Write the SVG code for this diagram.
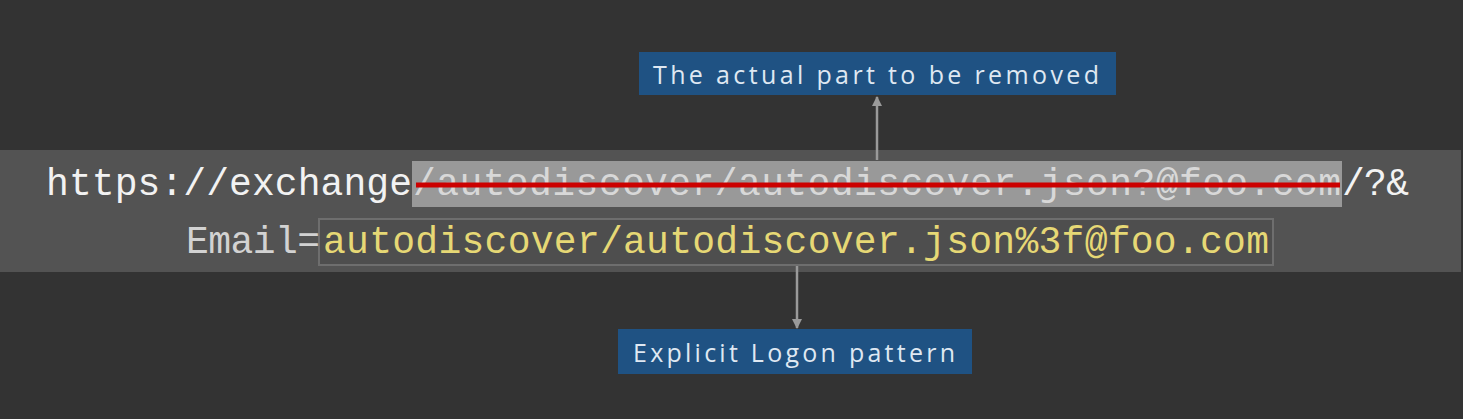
<svg xmlns="http://www.w3.org/2000/svg" width="1463" height="419" viewBox="0 0 1463 419">
<defs>
<style>
.mono{font-family:"Liberation Mono","DejaVu Sans Mono",monospace;font-size:38px}
.lbl{font-family:"Open Sans","Noto Sans",sans-serif;font-size:25px;fill:#dfe8f2;letter-spacing:1px}
.conn{stroke:#9a9a9a;stroke-width:2.5;fill:none}
</style>
<marker id="ah" viewBox="0 0 10 10" refX="9" refY="5" markerWidth="4" markerHeight="4" orient="auto">
<path d="M0,0 L10,5 L0,10 z" fill="#9a9a9a"/>
</marker>
</defs>
<rect width="1463" height="419" fill="#333333"/>
<g id="url-band">
<rect x="0" y="150" width="1461" height="122" fill="#535353"/>
<rect x="412" y="161" width="930" height="46" fill="#999999"/>
<rect x="319" y="219" width="954" height="46" fill="#4e4e4e" stroke="#6e6e6e" stroke-width="2"/>
<text class="mono" x="46" y="195" fill="#f2f2f2" textLength="366" lengthAdjust="spacing">https://exchange</text>
<text class="mono" x="413" y="195" fill="#d8d8d8" textLength="928" lengthAdjust="spacing">/autodiscover/autodiscover.json?@foo.com</text>
<text class="mono" x="1342" y="195" fill="#f2f2f2" textLength="67" lengthAdjust="spacing">/?&amp;</text>
<line x1="416" y1="185" x2="1340" y2="185" stroke="#cc0000" stroke-width="5"/>
<text class="mono" x="186" y="253" fill="#d2d2d2" textLength="134" lengthAdjust="spacing">Email=</text>
<text class="mono" x="323" y="253" fill="#e6d875" textLength="946" lengthAdjust="spacing">autodiscover/autodiscover.json%3f@foo.com</text>
</g>
<g id="label-removed">
<rect x="639" y="52" width="477" height="43" fill="#1f5283"/>
<text class="lbl" x="653" y="84" textLength="447" lengthAdjust="spacing">The actual part to be removed</text>
</g>
<g id="label-logon">
<rect x="618" y="329" width="354" height="45" fill="#1f5283"/>
<text class="lbl" x="633" y="362" textLength="323" lengthAdjust="spacing">Explicit Logon pattern</text>
</g>
<g id="connectors">
<line class="conn" x1="877" y1="160" x2="877" y2="97" marker-end="url(#ah)"/>
<line class="conn" x1="797" y1="266" x2="797" y2="328" marker-end="url(#ah)"/>
</g>
</svg>
